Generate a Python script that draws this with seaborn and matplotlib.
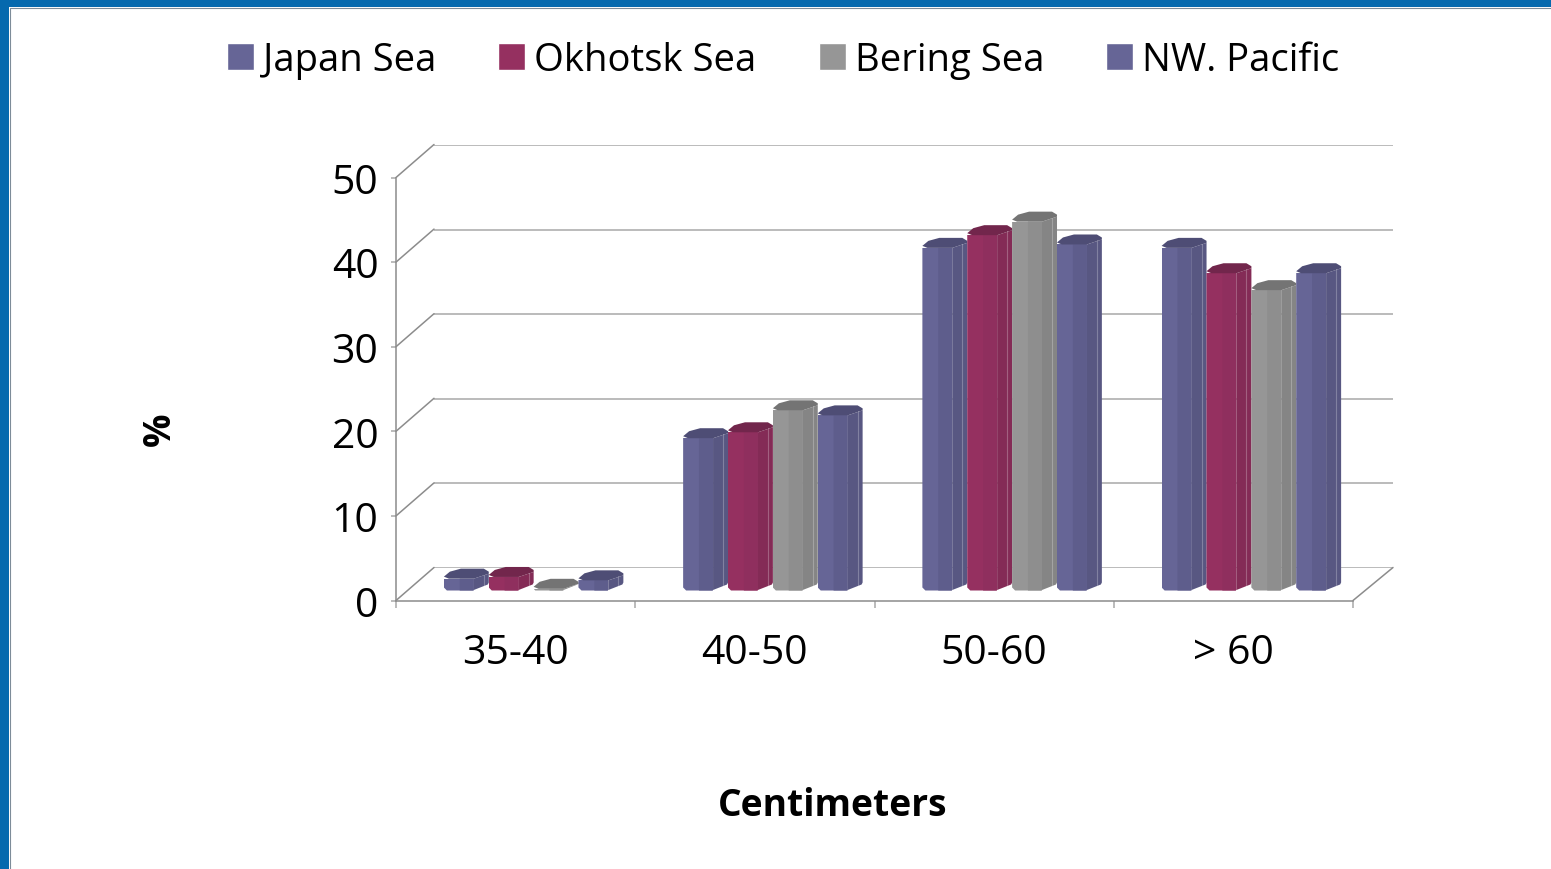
import matplotlib
matplotlib.use('Agg')
import matplotlib.pyplot as plt
import pandas as pd
import seaborn as sns
from matplotlib.lines import Line2D
from matplotlib.patches import Polygon, Rectangle
from matplotlib.transforms import Affine2D, IdentityTransform

sizes = ['35-40', '40-50', '50-60', '> 60']
series = ['Japan Sea', 'Okhotsk Sea', 'Bering Sea', 'NW. Pacific']
japan_sea = [1.4, 18.0, 40.5, 40.5]
okhotsk_sea = [1.6, 18.7, 42.0, 37.5]
bering_sea = [0.2, 21.3, 43.6, 35.5]
nw_pacific = [1.2, 20.7, 40.9, 37.5]
y_ticks = [0, 10, 20, 30, 40, 50]

# front, middle stripe, side, top of each bar
colors = {'Japan Sea': '#666596', 'Okhotsk Sea': '#953060', 'Bering Sea': '#969696', 'NW. Pacific': '#666596'}
shades = {'Japan Sea': ('#5e5d8c', '#585782', '#4e4d75'),
          'Okhotsk Sea': ('#8f2f5e', '#842b56', '#72264c'),
          'Bering Sea': ('#8e8e8e', '#858585', '#747474'),
          'NW. Pacific': ('#5e5d8c', '#585782', '#4e4d75')}

W, H = 1551, 870
GRID = '#a8a8a8'
FONT = 'Open Sans'
BLUE = '#0569ae'
# pixel rows of the front plane and the back wall
FRONT_0, FRONT_50 = 601.5, 178.5
BACK_0, BACK_50 = 568.5, 146

df = pd.DataFrame({'size': sizes, 'Japan Sea': japan_sea, 'Okhotsk Sea': okhotsk_sea,
                   'Bering Sea': bering_sea, 'NW. Pacific': nw_pacific})
df = df.melt(id_vars='size', var_name='sea', value_name='pct')

sns.set_theme(style='white')
plt.rcParams['font.family'] = [FONT, 'DejaVu Sans']

fig = plt.figure(figsize=(W / 100, H / 100), dpi=100)
fig.patches.append(Rectangle((0, 0), 9 / W, 1, transform=fig.transFigure, color=BLUE, lw=0))
fig.patches.append(Rectangle((0, 1 - 8 / H), 1, 8 / H, transform=fig.transFigure, color=BLUE, lw=0))
fig.lines.append(Line2D([9.5 / W, 9.5 / W, 1], [0, 1 - 8.5 / H, 1 - 8.5 / H], transform=fig.transFigure,
                        color='#7d8c99', lw=0.8))

# back wall of the 3D box
back = fig.add_axes([434 / W, (H - BACK_0) / H, (1393 - 434) / W, (BACK_0 - BACK_50) / H])
back.set_xlim(0, 1)
back.set_ylim(0, 50)
back.set_yticks(y_ticks)
back.set_xticks([])
back.tick_params(left=False, labelleft=False)
back.grid(axis='y', color=GRID, lw=1.1)
sns.despine(ax=back, left=True, bottom=True)

ax = fig.add_axes([396 / W, (H - FRONT_0) / H, (1353 - 396) / W, (FRONT_0 - FRONT_50) / H])
ax.patch.set_alpha(0)
sns.barplot(data=df, x='size', y='pct', hue='sea', hue_order=series, order=sizes,
            palette=colors, width=0.75, gap=1 / 3, saturation=1, ax=ax)
ax.set_xlim(-0.5, 3.5)
ax.set_ylim(0, 50)
ax.set_yticks(y_ticks)
ax.set_xticks([-0.5, 0.5, 1.5, 2.5, 3.5], labels=[])
ax.set_xticks(range(4), labels=sizes, minor=True)
ax.tick_params(axis='x', which='major', length=5, width=1.1, color=GRID, bottom=True)
ax.tick_params(axis='x', which='minor', length=0, pad=23, labelsize=29.5, labelcolor='black')
ax.tick_params(axis='y', length=3.6, width=1.1, color=GRID, left=True, pad=9, labelsize=29.5, labelcolor='black')
ax.set_xlabel('Centimeters', fontsize=26.8, fontweight='bold', color='black', labelpad=0)
ax.xaxis.set_label_coords((833 - 396) / (1353 - 396), -(805 - 600) / (600 - 177), transform=ax.transAxes)
ax.xaxis.label.set_verticalalignment('center')
ax.set_ylabel('%', fontsize=26.8, fontweight='bold', color='black')
ax.yaxis.set_label_coords((160 - 396) / (1353 - 396), (600 - 428) / (600 - 177), transform=ax.transAxes)
ax.yaxis.label.set_verticalalignment('center')
sns.despine(ax=ax)
ax.spines[['left', 'bottom']].set_color('#8c8c8c')
ax.spines[['left', 'bottom']].set_linewidth(1.1)

handles, labels = ax.get_legend_handles_labels()
fs_px = 27.5 * 100 / 72
leg = ax.legend(handles, labels, ncol=4, frameon=False, fontsize=27.5, loc='center left',
                bbox_to_anchor=(227 / W, 1 - 61 / H), bbox_transform=fig.transFigure, borderaxespad=0, borderpad=0,
                handlelength=27 / fs_px, handleheight=27 / fs_px, handletextpad=9 / fs_px, columnspacing=62 / fs_px)
for text in leg.get_texts():
    text.set_color('black')

# side walls / floor diagonals
for i in range(6):
    y0 = FRONT_0 - i * (FRONT_0 - FRONT_50) / 5
    ax.plot([396, 434], [H - y0, H - y0 + 33], color='#8c8c8c', lw=1.1, transform=IdentityTransform(), clip_on=False)
ax.plot([1353, 1393], [H - FRONT_0, H - FRONT_0 + 33], color='#8c8c8c', lw=1.1, transform=IdentityTransform(), clip_on=False)

# bars are moved back to mid depth, then given side and top faces
DX, DY = 10.5, 10
z = 3
for name, container in zip(series, ax.containers):
    mid, side, top = shades[name]
    for bar in container:
        bar.set_transform(ax.transData + Affine2D().translate(DX, DY))
        bar.set_linewidth(0)
        bar.set_zorder(z)
        (xa, b), (xb, t) = ax.transData.transform([(bar.get_x(), 0), (bar.get_x() + bar.get_width(), bar.get_height())])
        xa, xb, b, t = xa + DX, xb + DX, b + DY, t + DY
        w = xb - xa
        cut = min(3, t - b)
        # cut the lower corners of the front face
        bar.set_clip_path(Polygon([(xa, b + cut), (xa + cut, b), (xb, b), (xb, t + 1), (xa, t + 1)], closed=True,
                                  transform=IdentityTransform()))
        faces = [
            (mid, [(xa + w * 0.53, b), (xb - 1, b), (xb, b + 0.5), (xb, t), (xa + w * 0.53, t)]),
            (side, [(xb, b + 0.5), (xb + 14, b + 6), (xb + 15, b + 8), (xb + 15, t + 5), (xb, t)]),
            (top, [(xa, t + 2), (xa + 6, t + 7), (xa + 17, t + 10), (xb + 10, t + 10), (xb + 15, t + 7),
                   (xb + 15, t + 5), (xb, t), (xa + 5, t)]),
        ]
        for i, (color, pts) in enumerate(faces):
            ax.add_patch(Polygon(pts, closed=True, color=color, lw=0, transform=IdentityTransform(),
                                 clip_on=False, zorder=z + 0.1 * (i + 1)))
        if t - b > 5:
            ax.plot([xb + 10, xb + 10], [b + 5, t + 4], color='white', alpha=0.25, lw=0.8,
                    transform=IdentityTransform(), clip_on=False, zorder=z + 0.4)
        z += 1

ax.set_xlim(-0.5, 3.5)
ax.set_ylim(0, 50)
fig.savefig('out.png', dpi=100)
